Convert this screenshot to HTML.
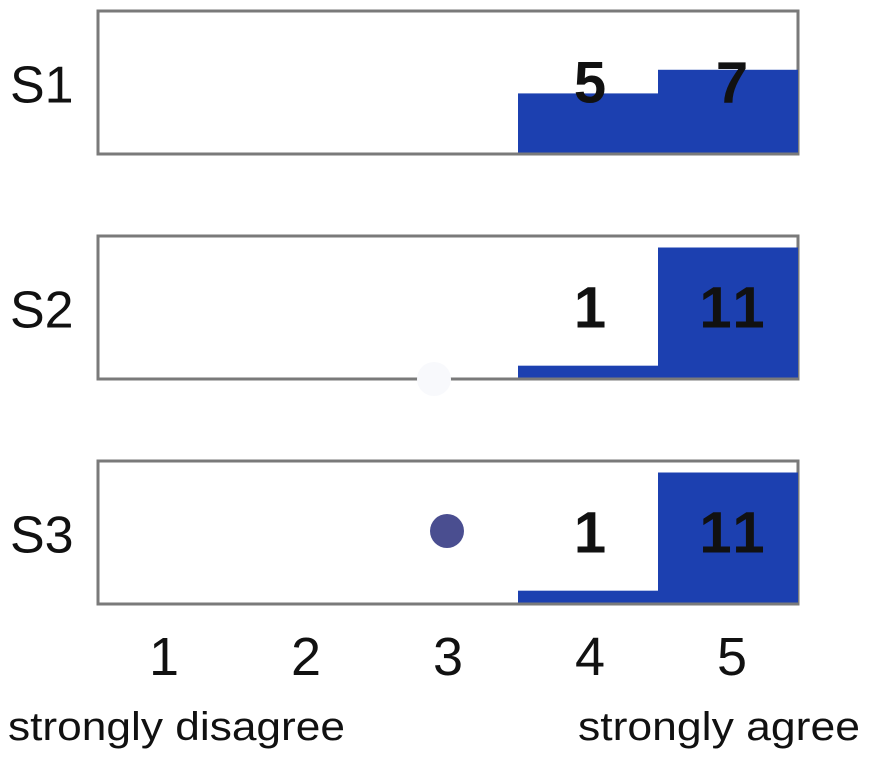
<!DOCTYPE html>
<html><head><meta charset="utf-8"><style>
body{margin:0;background:#fff;}
svg{display:block;font-family:"Liberation Sans",Arial,sans-serif;}
</style></head><body>
<svg id="chart" width="869" height="760"></svg>
<script>
const rows = ["S1","S2","S3"];
const scale = ["1","2","3","4","5"];
const countsS1 = [0,0,0,5,7];
const countsS2 = [0,0,0,1,11];
const countsS3 = [0,0,0,1,11];
const series = [countsS1, countsS2, countsS3];
const maxCount = 11;
const NS = "http://www.w3.org/2000/svg";
const svg = document.getElementById("chart");
const left = 98, right = 798, colW = (right-left)/5;
const tops = [11,236,461], ph = 143, barMaxH = 130;
function xCol(i){return left + i*colW;}
function xLabel(i){return 164 + i*142;}
function hVal(v){return v/maxCount*barMaxH;}
function mk(tag, attrs){const e=document.createElementNS(NS,tag);for(const k in attrs)e.setAttribute(k,attrs[k]);svg.appendChild(e);return e;}
rows.forEach((r,ri)=>{
  const top=tops[ri], bottom=top+ph-1.5;
  const g=mk("rect",{x:left,y:top,width:right-left,height:ph,fill:"#fff",stroke:"#7a7a7a","stroke-width":3});
  
  
  series[ri].forEach((v,i)=>{
    if(v<=0) return;
    const h=hVal(v);
    const b=mk("rect",{x:xCol(i),y:bottom-h,width:colW,height:h,fill:"#1c40b0"});
    
    
    const t=mk("text",{x:xLabel(i)+2,y:top+ph/2+20,"text-anchor":"middle","font-size":58,"font-weight":"bold","letter-spacing":"4",fill:"#111"});
    t.textContent=v;
    
    
  });
  const l=mk("text",{x:10,y:top+ph/2+20,"font-size":52,fill:"#111"});
  l.textContent=r;
  
  
});
scale.forEach((s,i)=>{
  const t=mk("text",{x:xLabel(i),y:675,"text-anchor":"middle","font-size":54,fill:"#111"});
  t.textContent=s;
  
  
});
const d1=mk("circle",{cx:434,cy:379,r:17,fill:"#f8f9fc"});


const d2=mk("circle",{cx:447,cy:531,r:17,fill:"#4a4e90"});


const a=mk("text",{x:8,y:740,"font-size":40,fill:"#111",textLength:337,lengthAdjust:"spacingAndGlyphs"});a.textContent="strongly disagree";


const b=mk("text",{x:578,y:740,"font-size":40,fill:"#111",textLength:282,lengthAdjust:"spacingAndGlyphs"});b.textContent="strongly agree";


</script>
</body></html>
